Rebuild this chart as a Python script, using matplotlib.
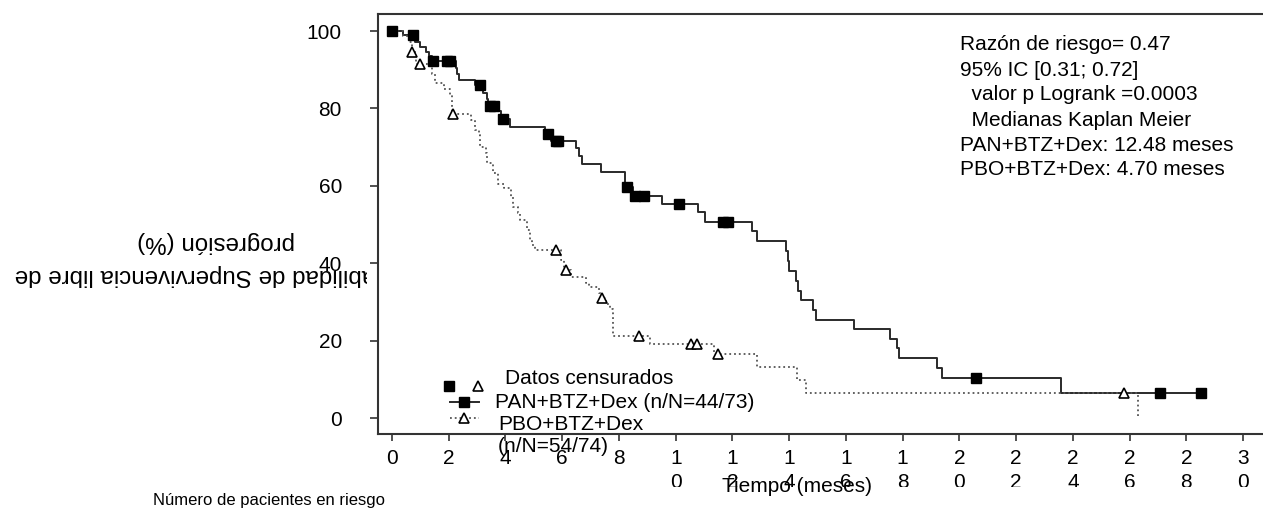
import numpy as np
import matplotlib
matplotlib.use("Agg")
import matplotlib.pyplot as plt
from matplotlib.lines import Line2D
from matplotlib.transforms import Bbox

plt.rcParams['font.family'] = ['Liberation Sans', 'DejaVu Sans']

# Curva PAN+BTZ+Dex (tiempo del escalon, supervivencia tras el escalon)
pan_time = [0, 0.40, 0.80, 0.99, 1.20, 1.30, 1.42, 2.26, 2.30, 2.35, 2.93, 3.20, 3.35, 3.40,
            3.75, 3.85, 4.15, 5.40, 5.60, 6.50, 6.60, 6.69, 7.36, 8.20, 8.50, 9.50, 10.77, 11.05,
            12.68, 12.85, 13.89, 13.95, 14.00, 14.23, 14.30, 14.41, 14.85, 14.95, 16.28, 17.55,
            17.80, 17.88, 19.20, 19.40, 23.58, 28.50]
pan_surv = [100, 99.0, 97.2, 95.9, 94.5, 93.5, 92.3, 90.5, 89.0, 87.3, 86.0, 84.0, 82.5, 80.6,
            79.3, 77.2, 75.3, 73.4, 71.6, 69.7, 67.6, 65.6, 63.6, 59.6, 57.4, 55.4, 53.3, 50.7,
            48.4, 45.8, 43.2, 40.6, 38.1, 35.5, 32.9, 30.5, 27.9, 25.4, 23.0, 20.5,
            18.0, 15.4, 12.9, 10.3, 6.5, 6.5]
pan_cens_t = [0, 0.75, 1.46, 1.93, 2.04, 3.10, 3.45, 3.60, 3.90, 5.51, 5.78, 5.86, 8.27, 8.57,
              8.90, 10.12, 11.68, 11.86, 20.59, 27.07, 28.50]
pan_cens_s = [100, 99.0, 92.3, 92.3, 92.3, 86.0, 80.6, 80.6, 77.2, 73.4, 71.6, 71.6, 59.6, 57.4,
              57.4, 55.4, 50.7, 50.7, 10.3, 6.5, 6.5]

# Curva PBO+BTZ+Dex
pbo_time = [0, 0.40, 0.60, 0.70, 0.85, 1.40, 1.50, 1.85, 2.05, 2.10, 2.80, 2.92, 3.05, 3.10,
            3.30, 3.35, 3.55, 3.75, 3.95, 4.20, 4.25, 4.45, 4.50, 4.75, 4.85, 4.95, 5.05, 5.95,
            6.05, 6.30, 6.85, 6.95, 7.30, 7.35, 7.55, 7.70, 7.78, 7.80, 9.10, 11.35, 12.85,
            14.26, 14.59, 26.30]
pbo_surv = [100, 98.6, 97.2, 94.5, 91.5, 89.0, 86.5, 85.0, 83.5, 78.5, 77.0, 74.4, 73.1, 70.1,
            68.4, 65.8, 63.2, 60.6, 59.4, 57.0, 54.6, 52.9, 51.2, 48.6, 46.0, 44.6, 43.4, 40.8,
            38.2, 36.5, 35.0, 33.9, 32.4, 30.9, 29.5, 28.1, 26.2, 21.2, 19.0, 16.5, 13.3,
            9.9, 6.5, 0]
pbo_cens_t = [0.72, 0.97, 2.16, 5.78, 6.12, 7.39, 8.70, 10.53, 10.74, 11.50, 25.80]
pbo_cens_s = [94.5, 91.5, 78.5, 43.4, 38.2, 30.9, 21.2, 19.0, 19.0, 16.5, 6.5]

xticks = list(range(0, 31, 2))
xtick_labels = ['0', '2', '4', '6', '8', '1\n0', '1\n2', '1\n4', '1\n6', '1\n8',
                '2\n0', '2\n2', '2\n4', '2\n6', '2\n8', '3\n0']
yticks = [0, 20, 40, 60, 80, 100]

stats_lines = ['Razón de riesgo= 0.47', '95% IC [0.31; 0.72]', '  valor p Logrank =0.0003',
               '  Medianas Kaplan Meier', 'PAN+BTZ+Dex: 12.48 meses', 'PBO+BTZ+Dex: 4.70 meses']

W, H = 1263, 509
fig = plt.figure(figsize=(W / 100, H / 100), dpi=100)


def px(x, y):
    return x / W, 1 - y / H


ax = fig.add_axes([378 / W, 1 - 434 / H, (W - 378) / W, (434 - 14) / H])

ax.plot(pan_time, pan_surv, drawstyle='steps-post', color='#2a2a2a', lw=1.4)
ax.plot(pbo_time, pbo_surv, drawstyle='steps-post', color='#555555', lw=1.3, ls=':')
ax.plot(pan_cens_t, pan_cens_s, ls='none', marker='s', ms=7, color='black')
ax.plot(pbo_cens_t, pbo_cens_s, ls='none', marker='^', ms=6.5, mfc='white', mec='black', mew=1.2)

ax.set_xlim(-0.493, 30.70)
ax.set_ylim(-4.13, 104.4)
ax.set_xticks(xticks)
ax.set_xticklabels(xtick_labels, fontsize=15, linespacing=1.3)
ax.set_yticks(yticks)
ax.set_yticklabels([str(v) for v in yticks], fontsize=15)
ax.tick_params(axis='y', length=6, width=1.2, pad=20, colors='#333333', labelcolor='black')
ax.tick_params(axis='x', length=5, width=1.2, pad=6, colors='#333333', labelcolor='black')
for s in ['left', 'top', 'bottom']:
    ax.spines[s].set_color('#333333')
    ax.spines[s].set_linewidth(1.5)
ax.spines['right'].set_visible(False)

# segunda fila de las etiquetas del eje x recortada
clip_ticks = Bbox([[0, H - 487], [W, H]])
for t in ax.xaxis.get_major_ticks():
    t.label1.set_clip_box(clip_ticks)
    t.label1.set_clip_on(True)

# texto de estadisticos
for i, line in enumerate(stats_lines):
    fig.text(*px(960, 45 + i * 25), line, fontsize=15, ha='left', va='center')

# leyenda manual
fig.add_artist(Line2D([px(449, 0)[0]], [px(0, 386)[1]], marker='s', ms=7, color='black',
                      ls='none', transform=fig.transFigure))
fig.add_artist(Line2D([px(478, 0)[0]], [px(0, 386)[1]], marker='^', ms=6.5, mfc='white',
                      mec='black', mew=1.2, ls='none', transform=fig.transFigure))
fig.text(*px(505, 379), 'Datos censurados', fontsize=15, ha='left', va='center')
x0, x1 = px(450, 0)[0], px(479, 0)[0]
fig.add_artist(Line2D([x0, x1], [px(0, 402)[1]] * 2, color='#2a2a2a', lw=1.4,
                      transform=fig.transFigure))
fig.add_artist(Line2D([px(464, 0)[0]], [px(0, 402)[1]], marker='s', ms=7, color='black',
                      ls='none', transform=fig.transFigure))
fig.text(*px(495, 402), 'PAN+BTZ+Dex (n/N=44/73)', fontsize=15, ha='left', va='center')
fig.add_artist(Line2D([x0, x1], [px(0, 418)[1]] * 2, color='#555555', lw=1.3, ls=':',
                      transform=fig.transFigure))
fig.add_artist(Line2D([px(464, 0)[0]], [px(0, 418)[1]], marker='^', ms=6.5, mfc='white',
                      mec='black', mew=1.2, ls='none', transform=fig.transFigure))
fig.text(*px(498, 424), 'PBO+BTZ+Dex', fontsize=15, ha='left', va='center')
fig.text(*px(498, 446), '(n/N=54/74)', fontsize=15, ha='left', va='center')

# titulos de ejes
fig.text(*px(797, 486), 'Tiempo (meses)', fontsize=15, ha='center', va='center')
fig.text(*px(269, 500), 'Número de pacientes en riesgo', fontsize=12, ha='center', va='center')

clip_ylab = Bbox([[0, 0], [367, H]])
yl1 = fig.text(*px(220, 275), 'Probabilidad de Supervivencia libre de', fontsize=17.4,
               rotation=180, ha='center', va='center')
yl1.set_clip_box(clip_ylab)
yl1.set_clip_on(True)
fig.text(*px(216, 242), 'progresión (%)', fontsize=17.4, rotation=180, ha='center', va='center')

fig.savefig('out.png', dpi=100)
